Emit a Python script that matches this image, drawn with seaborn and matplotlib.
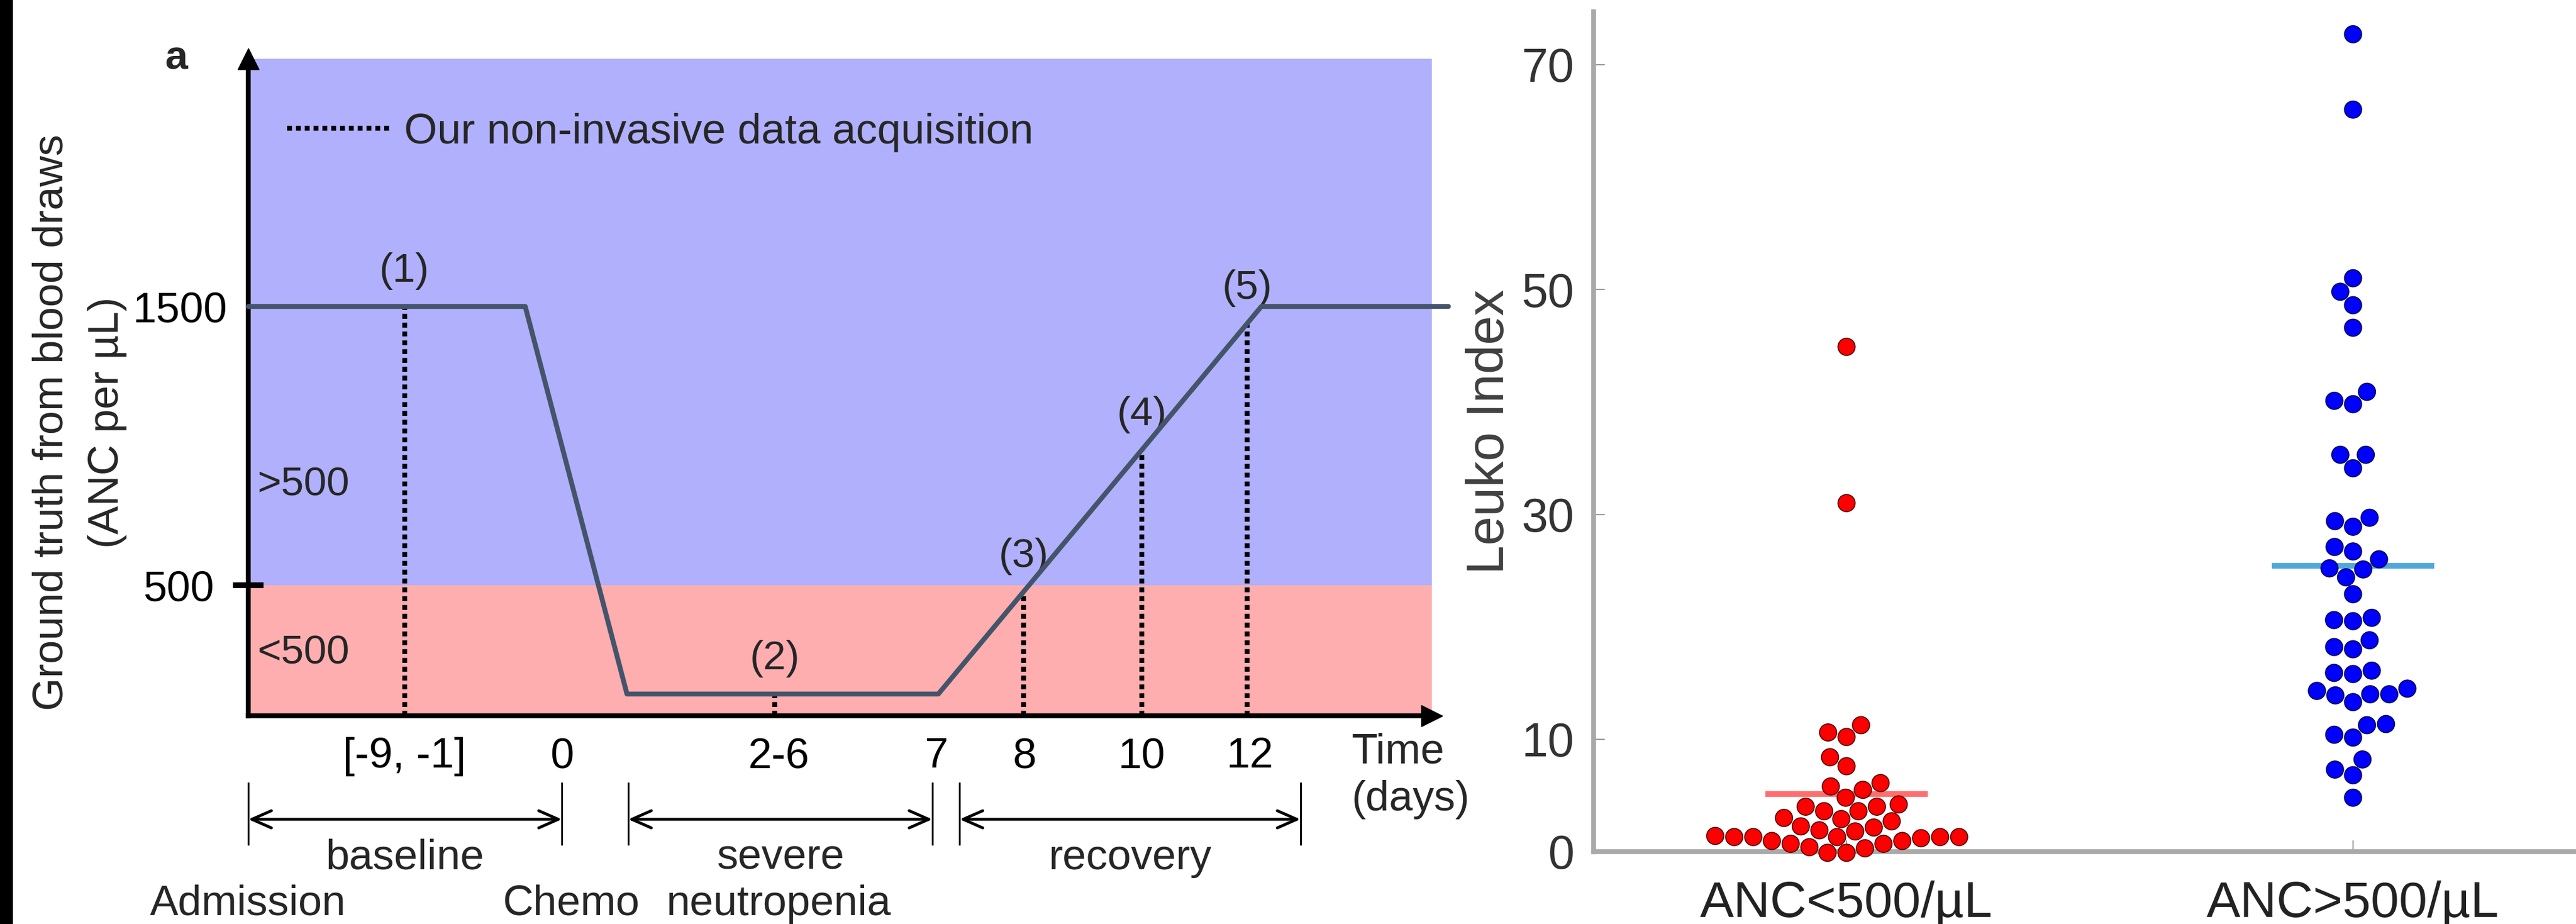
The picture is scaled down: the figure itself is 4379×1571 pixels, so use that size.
import numpy as np
import pandas as pd
import matplotlib.pyplot as plt
import matplotlib.transforms as mtransforms
import seaborn as sns

# panel a: schematic ANC course (x is a schematic time position, 0-100 across the shaded box)
curve_x = [0, 23.4, 32.0, 58.3, 85.6, 101.4]
curve_anc = [1500, 1500, 110, 110, 1500, 1500]
sample_x = [13.2, 44.5, 65.5, 75.5, 84.4]
sample_labels = ["(1)", "(2)", "(3)", "(4)", "(5)"]
tick_x = [13.2, 26.5, 44.8, 58.1, 65.6, 75.5, 84.6]
tick_labels = ["[-9, -1]", "0", "2-6", "7", "8", "10", "12"]
phase_names = ["baseline", "severe", "recovery"]
phase_start = [0, 32.1, 60.1]
phase_end = [26.5, 57.8, 88.9]
event_x = [0, 27.3, 44.8]
event_names = ["Admission", "Chemo", "neutropenia"]
anc_threshold = 500

# panel b: Leuko Index per group
groups = ["ANC<500/µL", "ANC>500/µL"]
low_anc = [44.9, 31.0, 11.25, 10.6, 10.2, 8.4, 7.6, 6.1, 5.8, 5.5, 4.8, 4.2, 4.0, 4.0,
           3.6, 3.6, 3.0, 2.9, 2.7, 2.25, 2.15, 1.9, 1.8, 1.4, 1.3, 1.3, 1.3, 1.3, 1.3,
           1.2, 0.95, 0.95, 0.7, 0.7, 0.4, 0.3, -0.1, -0.1]
high_anc = [72.7, 66.0, 51.0, 49.8, 48.6, 46.6, 40.9, 40.1, 39.8, 35.3, 35.3, 34.1,
            29.7, 29.4, 28.9, 27.1, 26.7, 26.0, 25.2, 25.1, 24.4, 22.9, 20.8, 20.6,
            20.5, 18.8, 18.2, 18.0, 16.1, 15.9, 15.8, 14.5, 14.3, 14.0, 14.0, 13.9,
            13.3, 11.35, 11.25, 10.4, 10.15, 8.2, 7.3, 6.8, 4.8]

sns.set_theme(style="white")
plt.rcParams['font.family'] = ['Liberation Sans', 'DejaVu Sans']

W, H = 4379, 1571
fig = plt.figure(figsize=(W / 100, H / 100), dpi=100)
fy = lambda px: 1 - px / H

# dark strip on the left edge of the scanned figure
strip = fig.add_axes([0, 0, 22 / W, 1])
strip.set_facecolor("black")
strip.set_xticks([])
strip.set_yticks([])
for s in strip.spines.values():
    s.set_visible(False)

# ---------------- panel a ----------------
ax1 = fig.add_axes([422 / W, fy(1217), (2434 - 422) / W, (1217 - 100) / H])
ylo, yhi = 32, 2388
ax1.axhspan(ylo, anc_threshold, color="#ffaeb0", lw=0, zorder=0)
ax1.axhspan(anc_threshold, yhi, color="#b1b0fc", lw=0, zorder=0)

sns.lineplot(x=curve_x, y=curve_anc, ax=ax1, color="#44546a", lw=6, sort=False, zorder=4)
ax1.lines[-1].set_clip_on(False)

tops = np.interp(sample_x, curve_x, curve_anc)
vl = ax1.vlines(sample_x, ylo, tops, colors="black", linestyles=(0, (1, 0.8)), lw=6, zorder=3)
for x, t, lab in zip(sample_x, tops, sample_labels):
    ax1.annotate(lab, (x, t), xytext=(0, 20), textcoords="offset points",
                 ha="center", va="bottom", fontsize=50)

ax1.text(0.8, 860, ">500", ha="left", va="center", fontsize=50)
ax1.text(0.8, 257, "<500", ha="left", va="center", fontsize=50)

ax1.legend(handles=[vl], labels=["Our non-invasive data acquisition"], loc="center left",
           bbox_to_anchor=(0.033, 0.888), frameon=False, fontsize=52, handlelength=2.4,
           handletextpad=0.35, borderpad=0, borderaxespad=0)

ax1.set_xlim(0, 100)
ax1.set_ylim(ylo, yhi)
for s in ["top", "right"]:
    ax1.spines[s].set_visible(False)
for s in ["left", "bottom"]:
    ax1.spines[s].set_color("black")
    ax1.spines[s].set_linewidth(6)
ax1.plot(1, 0, ">", color="black", ms=26, transform=ax1.transAxes, clip_on=False)
ax1.plot(0, 1, "^", color="black", ms=26, transform=ax1.transAxes, clip_on=False)

ax1.set_xticks(tick_x, tick_labels)
ax1.tick_params(axis="x", length=0, pad=26, labelsize=52, labelcolor="black")
ax1.set_yticks([500, 1500], ["500", "1500"])
ax1.tick_params(axis="y", direction="inout", length=37, width=7, color="black",
                labelsize=52, labelcolor="black", left=True)
yt = ax1.yaxis.get_major_ticks()
yt[0].set_pad(23)
yt[1].set_pad(7.5)
yt[1].tick1line.set_visible(False)

bl = mtransforms.blended_transform_factory(ax1.transData, fig.transFigure)
ax1.text(93.2, fy(1246), "Time\n(days)", transform=bl, ha="left", va="top",
         fontsize=52, linespacing=1.25)
for name, s, e in zip(phase_names, phase_start, phase_end):
    ax1.vlines([s, e], fy(1437), fy(1330), transform=bl, colors="black", lw=2.2, clip_on=False)
    ax1.annotate("", xy=(e, fy(1393)), xytext=(s, fy(1393)), xycoords=bl, textcoords=bl,
                 arrowprops=dict(arrowstyle="<->,head_length=0.8,head_width=0.35",
                                 lw=3.5, color="black", shrinkA=0, shrinkB=0,
                                 mutation_scale=30))
    ax1.text((s + e) / 2, fy(1478), name, transform=bl, ha="center", va="baseline", fontsize=52)
for x, name in zip(event_x, event_names):
    ax1.text(x, fy(1556), name, transform=bl, ha="center", va="baseline", fontsize=52)

fig.text(88 / W, fy(718), "Ground truth from blood draws", rotation=90,
         ha="center", va="center", fontsize=52)
fig.text(183 / W, fy(718), "(ANC per µL)", rotation=90, ha="center", va="center", fontsize=52)
fig.text(300 / W, fy(99), "a", ha="center", va="center", fontsize=50, fontweight="bold")

# ---------------- panel b ----------------
df = pd.DataFrame({"group": [groups[0]] * len(low_anc) + [groups[1]] * len(high_anc),
                   "leuko": low_anc + high_anc})
ax2 = fig.add_axes([2708.5 / W, 123 / H, 1722 / W, 1428 / H])
sns.swarmplot(data=df, x="group", y="leuko", hue="group", order=groups, hue_order=groups,
              palette=["#ff0000", "#0000ff"], size=21, linewidth=1.2, legend=False,
              ax=ax2, zorder=3)
ax2.collections[0].set_edgecolor("#4a0000")
ax2.collections[1].set_edgecolor("#00004a")
for c in ax2.collections:
    c.set_clip_on(False)

means = df.groupby("group")["leuko"].mean().reindex(groups).values
pos = np.arange(len(groups))
ax2.hlines(means, pos - 0.16, pos + 0.16, colors=["#ff6e6e", "#4fa8dc"], lw=7, zorder=2)

ax2.set_xlim(-0.5, 1.5)
ax2.set_ylim(0, 74.7)
ax2.set_yticks([0, 10, 30, 50, 70])
ax2.set_xlabel("")
ax2.set_ylabel("Leuko Index", fontsize=64, color="#404040", labelpad=9)
for s in ["top", "right"]:
    ax2.spines[s].set_visible(False)
for s in ["left", "bottom"]:
    ax2.spines[s].set_color("#a9a9a9")
    ax2.spines[s].set_linewidth(6)
ax2.tick_params(axis="y", direction="in", length=14, width=1.5, color="#999999",
                labelsize=58, labelcolor="#333333", pad=23, left=True)
ax2.tick_params(axis="x", direction="in", length=14, width=1.5, color="#999999",
                labelsize=62, labelcolor="#222222", pad=35, bottom=True)

fig.savefig("out.png", dpi=100)
